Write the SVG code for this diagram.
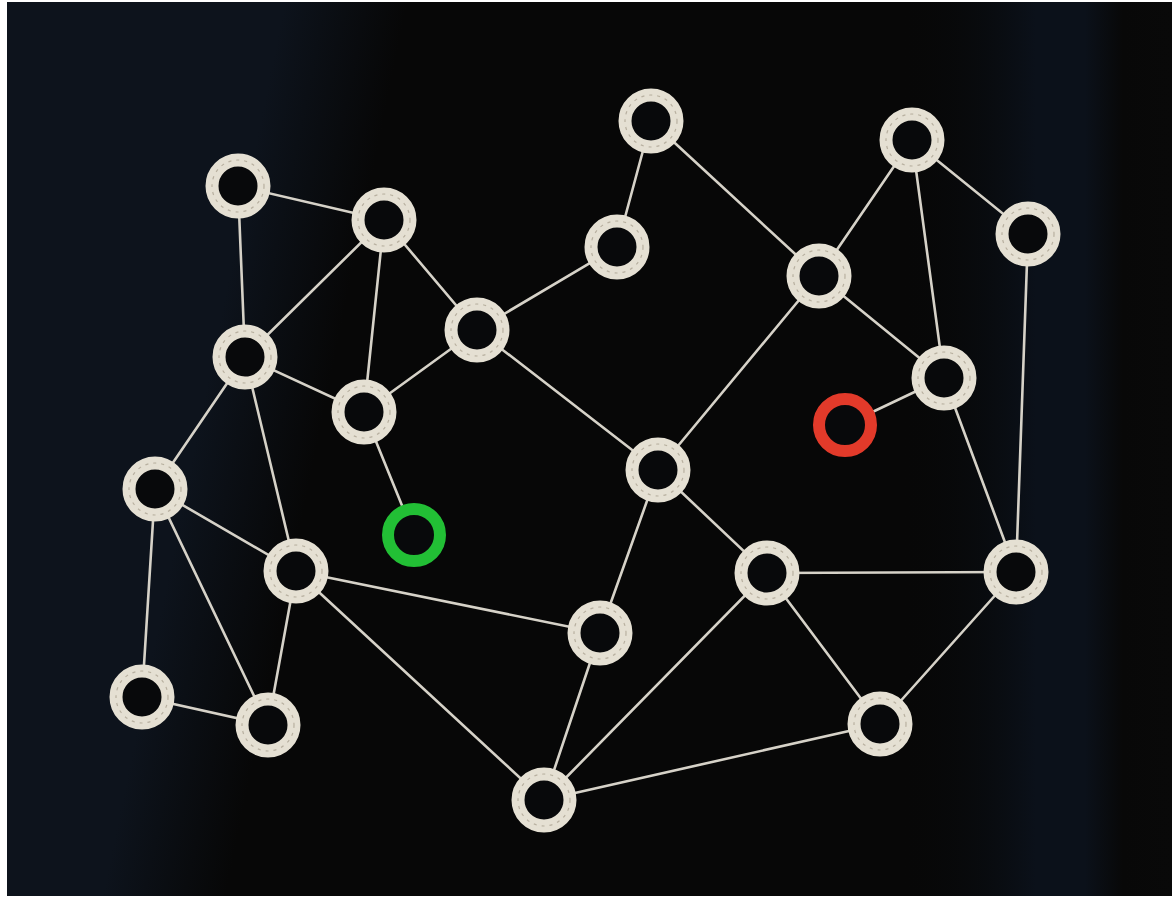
<svg xmlns="http://www.w3.org/2000/svg" width="1172" height="899" viewBox="0 0 1172 899">
<defs>
<linearGradient id="bgL" gradientUnits="userSpaceOnUse" x1="196" y1="438" x2="314" y2="462">
<stop offset="0" stop-color="#0d131c"/>
<stop offset="1" stop-color="#070707"/>
</linearGradient>
<linearGradient id="bgR" gradientUnits="userSpaceOnUse" x1="900" y1="0" x2="1172" y2="0">
<stop offset="0" stop-color="#070707" stop-opacity="0"/>
<stop offset="0.5" stop-color="#0b111a" stop-opacity="1"/>
<stop offset="0.68" stop-color="#0b111a" stop-opacity="1"/>
<stop offset="0.82" stop-color="#080808" stop-opacity="1"/>
<stop offset="1" stop-color="#090909" stop-opacity="1"/>
</linearGradient>
</defs>
<style>
.edge{stroke:#d6d2c8;stroke-width:2.6;fill:none;stroke-linecap:round}
.ring{fill:#08090b;stroke:#e5e0d3;stroke-width:13}
.ring2{fill:none;stroke:#b8b0a0;stroke-width:1.2;stroke-dasharray:3 5}
.red{fill:#08090b;stroke:#e23a2a;stroke-width:12}
.green{fill:#08090b;stroke:#22bf35;stroke-width:12}
</style>
<rect width="1172" height="899" fill="#ffffff"/>
<rect x="7" y="2" width="1165" height="894" fill="url(#bgL)"/>
<rect x="900" y="2" width="272" height="894" fill="url(#bgR)"/>
<g id="connectors">
<line class="edge" x1="238" y1="186" x2="384" y2="220"/>
<line class="edge" x1="238" y1="186" x2="245" y2="357"/>
<line class="edge" x1="384" y1="220" x2="245" y2="357"/>
<line class="edge" x1="384" y1="220" x2="364" y2="412"/>
<line class="edge" x1="384" y1="220" x2="477" y2="330"/>
<line class="edge" x1="245" y1="357" x2="364" y2="412"/>
<line class="edge" x1="364" y1="412" x2="477" y2="330"/>
<line class="edge" x1="477" y1="330" x2="617" y2="247"/>
<line class="edge" x1="617" y1="247" x2="651" y2="121"/>
<line class="edge" x1="651" y1="121" x2="819" y2="276"/>
<line class="edge" x1="819" y1="276" x2="912" y2="140"/>
<line class="edge" x1="912" y1="140" x2="1028" y2="234"/>
<line class="edge" x1="912" y1="140" x2="944" y2="378"/>
<line class="edge" x1="819" y1="276" x2="944" y2="378"/>
<line class="edge" x1="477" y1="330" x2="658" y2="470"/>
<line class="edge" x1="658" y1="470" x2="819" y2="276"/>
<line class="edge" x1="944" y1="378" x2="845" y2="425"/>
<line class="edge" x1="944" y1="378" x2="1016" y2="572"/>
<line class="edge" x1="1028" y1="234" x2="1016" y2="572"/>
<line class="edge" x1="364" y1="412" x2="414" y2="535"/>
<line class="edge" x1="245" y1="357" x2="155" y2="489"/>
<line class="edge" x1="245" y1="357" x2="296" y2="571"/>
<line class="edge" x1="155" y1="489" x2="296" y2="571"/>
<line class="edge" x1="155" y1="489" x2="142" y2="697"/>
<line class="edge" x1="155" y1="489" x2="268" y2="725"/>
<line class="edge" x1="296" y1="571" x2="268" y2="725"/>
<line class="edge" x1="142" y1="697" x2="268" y2="725"/>
<line class="edge" x1="296" y1="571" x2="600" y2="633"/>
<line class="edge" x1="296" y1="571" x2="544" y2="800"/>
<line class="edge" x1="658" y1="470" x2="600" y2="633"/>
<line class="edge" x1="658" y1="470" x2="767" y2="573"/>
<line class="edge" x1="600" y1="633" x2="544" y2="800"/>
<line class="edge" x1="767" y1="573" x2="1016" y2="572"/>
<line class="edge" x1="767" y1="573" x2="544" y2="800"/>
<line class="edge" x1="767" y1="573" x2="880" y2="724"/>
<line class="edge" x1="880" y1="724" x2="1016" y2="572"/>
<line class="edge" x1="880" y1="724" x2="544" y2="800"/>
</g>
<g id="n1"><circle class="ring" cx="238" cy="186" r="26"/><circle class="ring2" cx="238" cy="186" r="26"/></g>
<g id="n2"><circle class="ring" cx="384" cy="220" r="26"/><circle class="ring2" cx="384" cy="220" r="26"/></g>
<g id="n3"><circle class="ring" cx="245" cy="357" r="26"/><circle class="ring2" cx="245" cy="357" r="26"/></g>
<g id="n4"><circle class="ring" cx="364" cy="412" r="26"/><circle class="ring2" cx="364" cy="412" r="26"/></g>
<g id="n5"><circle class="ring" cx="477" cy="330" r="26"/><circle class="ring2" cx="477" cy="330" r="26"/></g>
<g id="n6"><circle class="ring" cx="617" cy="247" r="26"/><circle class="ring2" cx="617" cy="247" r="26"/></g>
<g id="n7"><circle class="ring" cx="651" cy="121" r="26"/><circle class="ring2" cx="651" cy="121" r="26"/></g>
<g id="n8"><circle class="ring" cx="912" cy="140" r="26"/><circle class="ring2" cx="912" cy="140" r="26"/></g>
<g id="n9"><circle class="ring" cx="1028" cy="234" r="26"/><circle class="ring2" cx="1028" cy="234" r="26"/></g>
<g id="n10"><circle class="ring" cx="819" cy="276" r="26"/><circle class="ring2" cx="819" cy="276" r="26"/></g>
<g id="n11"><circle class="ring" cx="944" cy="378" r="26"/><circle class="ring2" cx="944" cy="378" r="26"/></g>
<g id="red"><circle class="red" cx="845" cy="425" r="26"/></g>
<g id="n12"><circle class="ring" cx="658" cy="470" r="26"/><circle class="ring2" cx="658" cy="470" r="26"/></g>
<g id="green"><circle class="green" cx="414" cy="535" r="26"/></g>
<g id="n13"><circle class="ring" cx="155" cy="489" r="26"/><circle class="ring2" cx="155" cy="489" r="26"/></g>
<g id="n14"><circle class="ring" cx="296" cy="571" r="26"/><circle class="ring2" cx="296" cy="571" r="26"/></g>
<g id="n15"><circle class="ring" cx="767" cy="573" r="26"/><circle class="ring2" cx="767" cy="573" r="26"/></g>
<g id="n16"><circle class="ring" cx="1016" cy="572" r="26"/><circle class="ring2" cx="1016" cy="572" r="26"/></g>
<g id="n17"><circle class="ring" cx="600" cy="633" r="26"/><circle class="ring2" cx="600" cy="633" r="26"/></g>
<g id="n18"><circle class="ring" cx="142" cy="697" r="26"/><circle class="ring2" cx="142" cy="697" r="26"/></g>
<g id="n19"><circle class="ring" cx="268" cy="725" r="26"/><circle class="ring2" cx="268" cy="725" r="26"/></g>
<g id="n20"><circle class="ring" cx="880" cy="724" r="26"/><circle class="ring2" cx="880" cy="724" r="26"/></g>
<g id="n21"><circle class="ring" cx="544" cy="800" r="26"/><circle class="ring2" cx="544" cy="800" r="26"/></g>
</svg>
